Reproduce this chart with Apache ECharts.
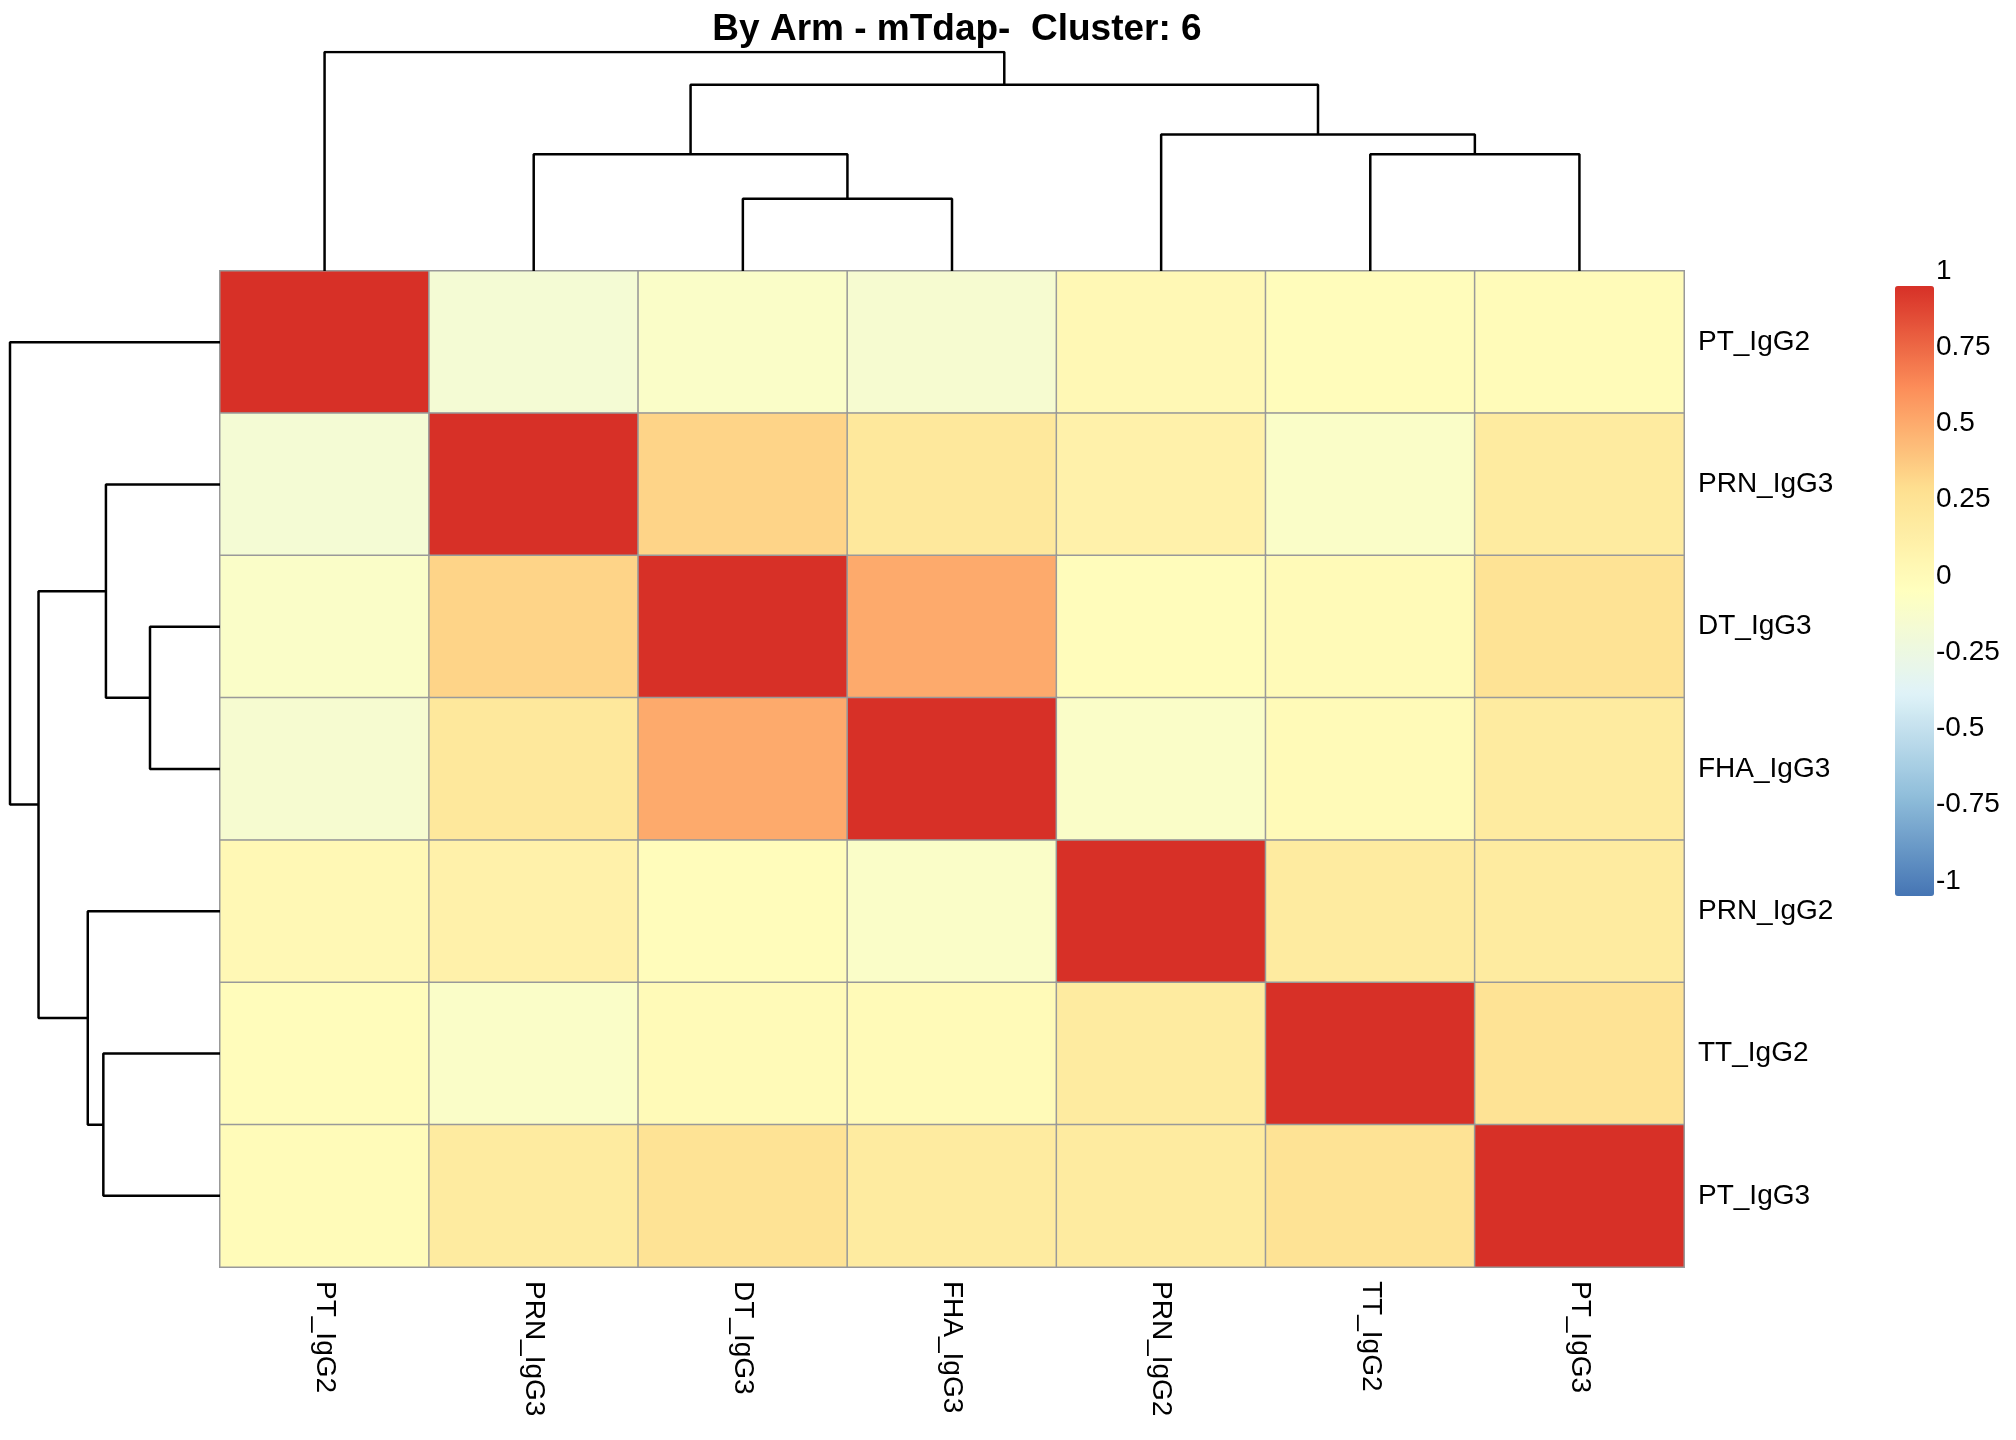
<!DOCTYPE html>
<html>
<head>
<meta charset="utf-8">
<script src="https://cdn.jsdelivr.net/npm/echarts@6/dist/echarts.min.js"></script>
<style>html,body{margin:0;background:#fff}#chart{width:2016px;height:1440px}</style>
</head>
<body>
<div id="chart"></div>
<script>
// 变量顺序（聚类后）
var labels = ['PT_IgG2', 'PRN_IgG3', 'DT_IgG3', 'FHA_IgG3', 'PRN_IgG2', 'TT_IgG2', 'PT_IgG3'];

// 相关系数矩阵，按行
var rowPT2 = [1, -0.12, -0.05, -0.1, 0.07, 0.03, 0.04];
var rowPRN3 = [-0.12, 1, 0.38, 0.25, 0.15, -0.05, 0.22];
var rowDT3 = [-0.05, 0.38, 1, 0.55, 0.03, 0.05, 0.3];
var rowFHA3 = [-0.1, 0.25, 0.55, 1, -0.05, 0.05, 0.22];
var rowPRN2 = [0.07, 0.15, 0.03, -0.05, 1, 0.22, 0.22];
var rowTT2 = [0.03, -0.05, 0.05, 0.05, 0.22, 1, 0.3];
var rowPT3 = [0.04, 0.22, 0.3, 0.22, 0.22, 0.3, 1];
var rows = [rowPT2, rowPRN3, rowDT3, rowFHA3, rowPRN2, rowTT2, rowPT3];

// 列聚类合并：[左子, 右子, 高度]，子节点为叶子序号或 'mN'
var colMerges = [[2, 3, 55], [1, 'm0', 89], [5, 6, 89], [4, 'm2', 104], ['m1', 'm3', 142], [0, 'm4', 167]];
var rowMerges = [[2, 3, 54], [1, 'm0', 88], [5, 6, 90], [4, 'm2', 102], ['m1', 'm3', 140], [0, 'm4', 162]];

var colorTicks = [-1, -0.75, -0.5, -0.25, 0, 0.25, 0.5, 0.75, 1];
var palette = ['#4575B4', '#91BFDB', '#E0F3F8', '#FFFFBF', '#FEE090', '#FC8D59', '#D73027'];

var font = 'Liberation Sans, Arial, sans-serif';

var heatData = [];
rows.forEach(function (r, i) {
    r.forEach(function (v, j) {
        heatData.push([j, i, v]);
    });
});

// 树形图线段
function dendroSeries(merges, idx, horizontal) {
    var nodes = [];
    var out = [];
    function pos(c) {
        if (typeof c === 'number') return [c, 0];
        return nodes[parseInt(c.slice(1))];
    }
    merges.forEach(function (m) {
        var a = pos(m[0]), b = pos(m[1]), h = m[2];
        var pts = [[a[0], a[1]], [a[0], h], [b[0], h], [b[0], b[1]]];
        if (horizontal) pts = pts.map(function (p) { return [p[1], p[0]]; });
        out.push({
            type: 'line', xAxisIndex: idx, yAxisIndex: idx, data: pts,
            symbol: 'none', silent: true,
            lineStyle: {color: '#000', width: 2.5}
        });
        nodes.push([(a[0] + b[0]) / 2, h]);
    });
    return out;
}

var chart = echarts.init(document.getElementById('chart'));
var series = [{
    type: 'heatmap', xAxisIndex: 0, yAxisIndex: 0, data: heatData,
    itemStyle: {borderColor: '#999', borderWidth: 1.5}
}];
series = series.concat(dendroSeries(colMerges, 1, false));
series = series.concat(dendroSeries(rowMerges, 2, true));

chart.setOption({
    animation: false,
    title: {
        text: 'By Arm - mTdap-  Cluster: 6', left: 952, top: 6, textAlign: 'center',
        textStyle: {fontFamily: font, fontSize: 37, fontWeight: 'bold', color: '#000'}
    },
    grid: [
        {left: 220, top: 271, width: 1464, height: 996},
        {left: 220, top: 52, width: 1464, height: 219},
        {left: 10, top: 271, width: 210, height: 996},
        {left: 1919, top: 271, width: 1, height: 610}
    ],
    xAxis: [
        {
            type: 'category', gridIndex: 0, data: labels, position: 'bottom',
            axisLine: {show: false}, axisTick: {show: false}, splitLine: {show: false},
            axisLabel: {rotate: -90, margin: 14, fontFamily: font, fontSize: 28, color: '#000'}
        },
        {type: 'value', gridIndex: 1, min: -0.5, max: 6.5, show: false},
        {type: 'value', gridIndex: 2, min: 0, max: 162, inverse: true, show: false},
        {type: 'value', gridIndex: 3, show: false}
    ],
    yAxis: [
        {
            type: 'category', gridIndex: 0, data: labels, inverse: true, position: 'right',
            axisLine: {show: false}, axisTick: {show: false}, splitLine: {show: false},
            axisLabel: {margin: 14, fontFamily: font, fontSize: 28, color: '#000'}
        },
        {type: 'value', gridIndex: 1, min: 0, max: 167, show: false},
        {type: 'value', gridIndex: 2, min: -0.5, max: 6.5, inverse: true, show: false},
        {
            type: 'value', gridIndex: 3, min: -1, max: 1, interval: 0.25, position: 'right',
            axisLine: {show: false}, axisTick: {show: false}, splitLine: {show: false},
            axisLabel: {margin: 16, fontFamily: font, fontSize: 28, color: '#000',
                formatter: function (v) { return colorTicks.indexOf(v) >= 0 ? String(v) : ''; }}
        }
    ],
    visualMap: {
        type: 'continuous', min: -1, max: 1, seriesIndex: 0,
        left: 1880, top: 271, itemWidth: 39, itemHeight: 610,
        calculable: false, text: ['', ''], showLabel: false,
        inRange: {color: palette}
    },
    series: series
});
</script>
</body>
</html>
